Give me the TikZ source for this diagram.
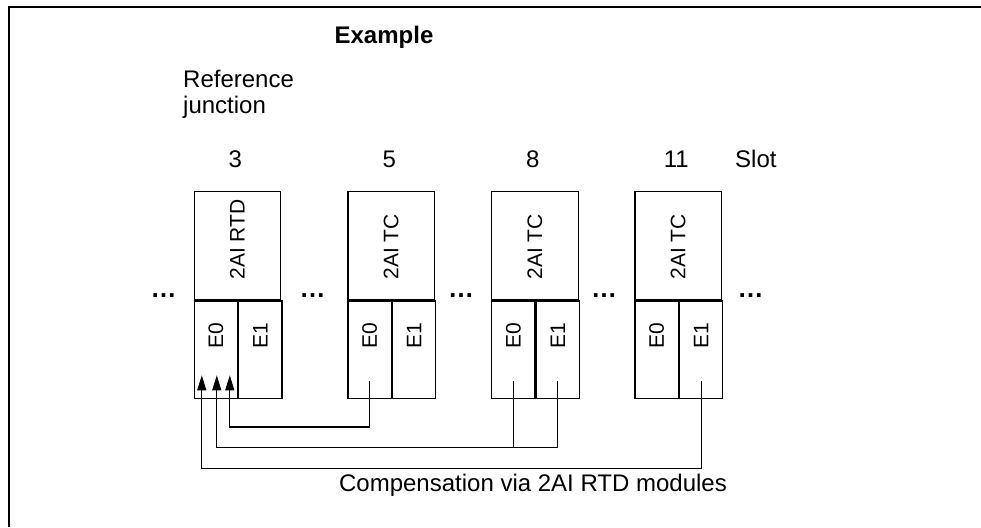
\documentclass[tikz,border=0pt]{standalone}
\usepackage{fontspec}
\setmainfont{Liberation Sans}
\usetikzlibrary{arrows.meta,positioning,calc}

\begin{document}
\begin{tikzpicture}[x=1pt,y=-1pt,
  modbox/.style={draw,line width=1.3pt,minimum width=86.5pt,minimum height=108.3pt,
    inner sep=0pt,anchor=north west},
  cell/.style={draw,line width=1.3pt,minimum width=43.25pt,minimum height=97.7pt,
    inner sep=0pt,anchor=north west},
  vlabel/.style={rotate=90,inner sep=0pt,font=\fontsize{21}{25}\selectfont},
  txt/.style={inner sep=0pt,font=\fontsize{24}{26}\selectfont},
  wire/.style={line width=1.2pt},
  arr/.style={-{Triangle[length=15pt,width=9pt]},line width=1.2pt}
]
  \useasboundingbox (0,0) rectangle (981,527);
  \draw[line width=1.8pt] (981,7.3) -- (9.3,7.3) -- (9.3,527);

  \node[txt,font=\fontsize{24}{26}\selectfont\bfseries,anchor=base] (title) at (384,43.3) {Example};
  \node[txt,align=left,anchor=north west] (refj) at (183,70) {Reference\\junction};
  \node[txt,anchor=base west] (slot) at (735,167.3) {Slot};

  % Modules
  \foreach \x/\s/\t in {193.5/3/RTD, 347.3/5/TC, 491/8/TC, 634.3/11/TC} {
    \node[modbox] (m\s) at (\x,190.7) {};
    \node[vlabel,anchor=west] (m\s-t) at ([yshift=20.7pt]m\s.south) {2AI \t};
    \node[txt,anchor=base] (m\s-n) at ([xshift=-2pt,yshift=23.4pt]m\s.north) {\s};
    \node[cell] (m\s-e0) at (m\s.south west) {};
    \node[cell] (m\s-e1) at (m\s-e0.north east) {};
    \node[vlabel] (m\s-l0) at ([yshift=64pt]m\s-e0.south) {E0};
    \node[vlabel] (m\s-l1) at ([yshift=64pt]m\s-e1.south) {E1};
  }
  \foreach \x [count=\i] in {163.5,312.5,461,604,750.5}
    \node[txt,font=\fontsize{26}{26}\selectfont\bfseries,anchor=base] (d\i) at (\x,297.7) {\ldots};

  % Wiring
  \coordinate (w5) at ([yshift=18.7pt]m5-e0.south);
  \coordinate (w8a) at ([yshift=18.7pt]m8-e0.south);
  \coordinate (w8b) at ([yshift=18.7pt]m8-e1.south);
  \coordinate (w11) at ([yshift=18.7pt]m11-e1.south);
  \coordinate (ra) at ([xshift=14pt,yshift=24pt]m3-e0.south);
  \coordinate (rb) at ([xshift=1pt,yshift=24pt]m3-e0.south);
  \coordinate (rc) at ([xshift=-14pt,yshift=24pt]m3-e0.south);

  \draw[arr] (w5) -- ++(0,46.3) -| (ra);
  \draw[wire] (w8a) -- ++(0,67);
  \draw[arr] (w8b) -- ++(0,67) -| (rb);
  \draw[arr] (w11) -- ++(0,87.7) -| (rc);

  \node[txt,anchor=base] (comp) at (533,491.7) {Compensation via 2AI RTD modules};
\end{tikzpicture}
\end{document}
